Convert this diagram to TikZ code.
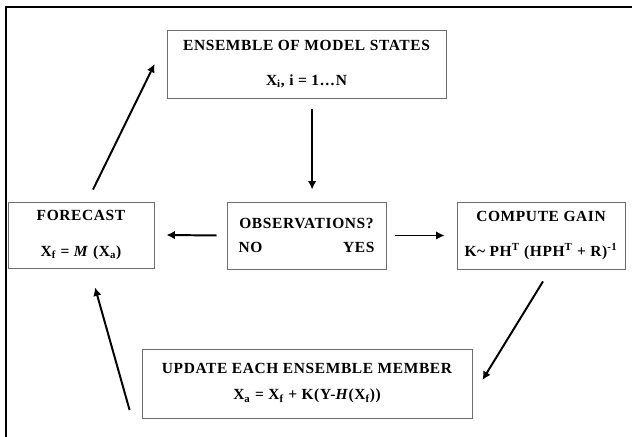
\documentclass[tikz,border=0pt]{standalone}
\usepackage{fontspec}
\setmainfont[LetterSpace=4]{Liberation Serif}
\usetikzlibrary{arrows.meta}
\definecolor{boxgray}{HTML}{6E6E6E}

\begin{document}
\begin{tikzpicture}[line width=0.5pt,
    stage/.style={draw=boxgray, line width=0.6pt, align=center, inner sep=0pt, font=\fontsize{11}{13}\selectfont\bfseries},
    flow/.style={-{Latex[length=6pt,width=6pt]}, line width=1.4pt}]
  \useasboundingbox (0,0) rectangle (15.8,10.925);
  \draw[line width=1.4pt] (0.15,0) -- (0.15,10.74) -- (15.9,10.74);
  \node[stage, minimum width=6.975cm, minimum height=1.7cm] (ens) at (7.6625,9.325)
    {ENSEMBLE OF MODEL STATES\\[12pt] X\textsubscript{i}, i = 1\ldots N};
  \node[stage, minimum width=3.65cm, minimum height=1.65cm] (fcst) at (2.025,5.05)
    {FORECAST\\[12pt] X\textsubscript{f} = \textit{M} (X\textsubscript{a})};
  \node[stage, minimum width=3.975cm, minimum height=1.675cm] (obs) at (7.6625,5.0375)
    {\makebox[3.4cm]{OBSERVATIONS?}\\[4pt] \makebox[3.4cm]{NO\hfill YES}};
  \node[stage, minimum width=4.2cm, minimum height=1.675cm] (gain) at (13.525,5.0375)
    {COMPUTE GAIN\\[12pt] K\textasciitilde{} PH\textsuperscript{T} (HPH\textsuperscript{T} + R)\textsuperscript{-1}};
  \node[stage, minimum width=8.25cm, minimum height=1.725cm] (upd) at (7.675,1.3375)
    {UPDATE EACH ENSEMBLE MEMBER\\[5.5pt] X\textsubscript{a} = X\textsubscript{f} + K(Y-\textit{H}(X\textsubscript{f}))};
  \draw[flow] ([xshift=0.14cm,yshift=-0.275cm]ens.south) -- ([xshift=0.14cm,yshift=0.3cm]obs.north);
  \draw[flow] ([xshift=-0.25cm]obs.west) -- ([xshift=0.3cm]fcst.east);
  \draw[flow] ([xshift=0.225cm]obs.east) -- ([xshift=-0.3cm]gain.west);
  \draw[flow] ([shift={(0.05,-0.3)}]gain.south) -- ([shift={(0.25,0.0875)}]upd.east);
  \draw[flow] ([shift={(-0.3,-0.6625)}]upd.west) -- ([shift={(0.35,-0.475)}]fcst.south);
  \draw[flow] ([shift={(0.3,0.3)}]fcst.north) -- ([xshift=-0.3cm]ens.west);
\end{tikzpicture}
\end{document}
